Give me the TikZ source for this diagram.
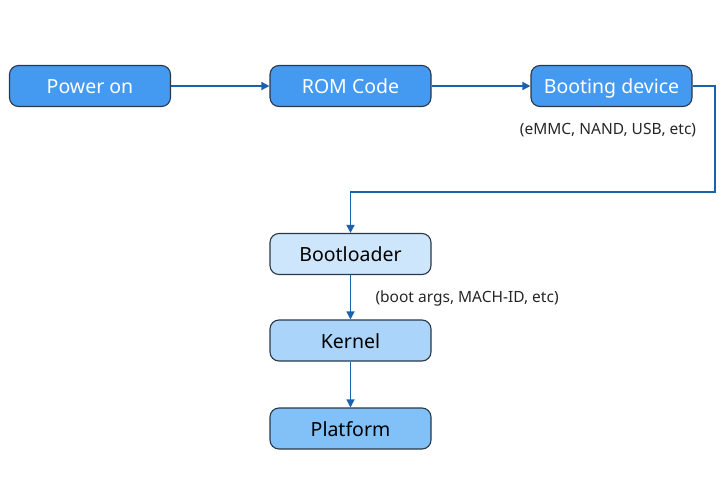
\documentclass[tikz,border=0pt]{standalone}
\usepackage{fontspec}
\setmainfont{Noto Sans}
\usetikzlibrary{arrows.meta}
\definecolor{topfill}{HTML}{4499F0}
\definecolor{bdr}{HTML}{2A3848}
\definecolor{arr}{HTML}{1A62AE}
\definecolor{f1}{HTML}{CDE6FC}
\definecolor{f2}{HTML}{AAD4FA}
\definecolor{f3}{HTML}{82C0F8}
\tikzset{
  box/.style={draw=bdr, line width=1.1pt, rounded corners=9pt, minimum width=161pt, minimum height=41pt, inner sep=0pt, text height=19.5pt, text depth=4pt, font=\fontsize{19.5}{22}\selectfont},
  topbox/.style={box, fill=topfill, text=white},
  conn/.style={draw=arr, line width=1.5pt, -{Triangle[length=8pt,width=8pt]}},
  lbl/.style={font=\fontsize{15.5}{18}\selectfont, text=black!85}
}
\begin{document}
\begin{tikzpicture}[x=1pt,y=-1pt]
\useasboundingbox (0,0) rectangle (724,496);
\node[topbox] (pw) at (90,86) {Power on};
\node[topbox] (rom) at (350.5,86) {ROM Code};
\node[topbox] (bd) at (611.5,86) {Booting device};
\node[box, fill=f1] (bl) at (350.5,254) {Bootloader};
\node[box, fill=f2] (k) at (350.5,340.5) {Kernel};
\node[box, fill=f3] (pf) at (350.5,428.5) {Platform};
\coordinate (c1) at (715,86);
\coordinate (c2) at (715,192);
\coordinate (c3) at (350.5,192);
\draw[conn] (pw) -- (rom);
\draw[conn] (rom) -- (bd);
\draw[conn] (bd.east) -- (c1) -- (c2) -- (c3) -- (bl.north);
\draw[conn] (bl) -- (k);
\draw[conn] (k) -- (pf);
\node[lbl] (l1) at (608,130) {(eMMC, NAND, USB, etc)};
\node[lbl, anchor=west] (l2) at (372,298) {(boot args, MACH-ID, etc)};
\end{tikzpicture}
\end{document}
